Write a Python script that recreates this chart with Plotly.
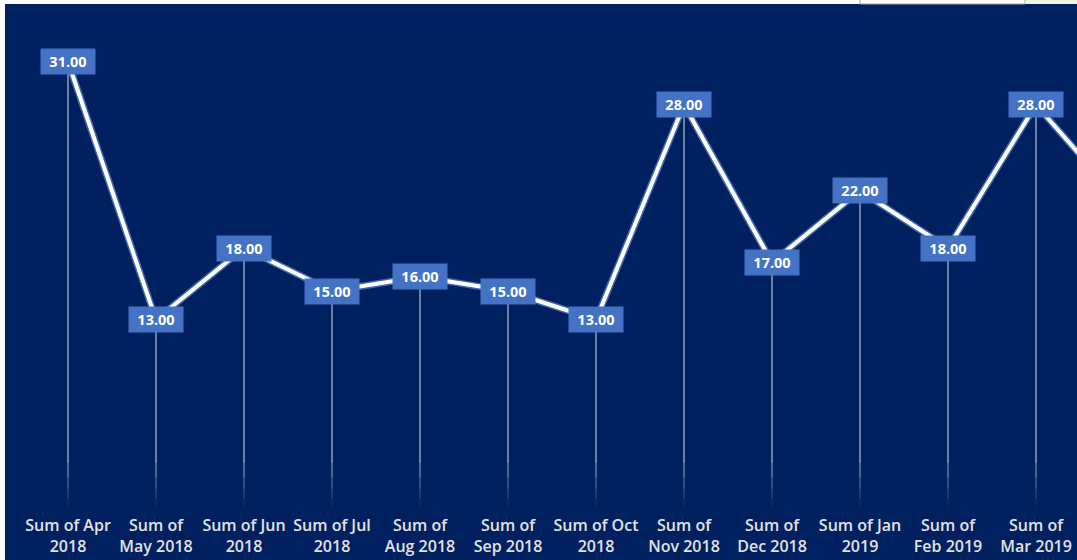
import plotly.graph_objects as go

# Monthly totals, Apr 2018 - Apr 2019
months = ["Apr 2018", "May 2018", "Jun 2018", "Jul 2018", "Aug 2018", "Sep 2018",
          "Oct 2018", "Nov 2018", "Dec 2018", "Jan 2019", "Feb 2019", "Mar 2019",
          "Apr 2019"]
tick_text = ["Sum of Apr<br>2018", "Sum of<br>May 2018", "Sum of Jun<br>2018",
             "Sum of Jul<br>2018", "Sum of<br>Aug 2018", "Sum of<br>Sep 2018",
             "Sum of Oct<br>2018", "Sum of<br>Nov 2018", "Sum of<br>Dec 2018",
             "Sum of Jan<br>2019", "Sum of<br>Feb 2019", "Sum of<br>Mar 2019",
             "Sum of Apr<br>2019"]
values = [31, 13, 18, 15, 16, 15, 13, 28, 17, 22, 18, 28, 21]

NAVY = "#002060"
LABEL_BLUE = "#4472C4"
idx = list(range(len(months)))

fig = go.Figure()

# drop lines from each point to the axis, fading out near the bottom
drop_x, drop_y = [], []
for i, v in zip(idx, values):
    drop_x += [i, i, None]
    drop_y += [v, 3.0, None]
fig.add_trace(go.Scatter(x=drop_x, y=drop_y, mode="lines",
                         line=dict(color="rgba(255,255,255,0.85)", width=1),
                         hoverinfo="skip", showlegend=False))
fade = [(3.0, 2.0, 0.6), (2.0, 1.2, 0.4), (1.2, 0.5, 0.22), (0.5, 0.0, 0.08)]
for top, bot, a in fade:
    fx, fy = [], []
    for i in idx:
        fx += [i, i, None]
        fy += [top, bot, None]
    fig.add_trace(go.Scatter(x=fx, y=fy, mode="lines",
                             line=dict(color=f"rgba(255,255,255,{a})", width=1),
                             hoverinfo="skip", showlegend=False))

# soft glow under the main line
fig.add_trace(go.Scatter(x=idx, y=values, mode="lines",
                         line=dict(color="rgba(120,160,230,0.55)", width=7),
                         hoverinfo="skip", showlegend=False))
fig.add_trace(go.Scatter(x=idx, y=values, mode="lines",
                         line=dict(color="white", width=4),
                         showlegend=False))

# value labels in boxes
for i, v in zip(idx, values):
    fig.add_annotation(x=i, y=v, text=f"{v:.2f}", showarrow=False,
                       bgcolor=LABEL_BLUE, borderpad=3, width=48, height=19,
                       font=dict(family="Open Sans", size=14.5, color="white", weight="bold"))

# white strips along the top and left edge, and the box in the top-right corner
PW, PH = 1072.0, 502.0
fig.add_shape(type="rect", xref="paper", yref="paper", x0=-5 / PW, x1=1.01,
              y0=1, y1=1 + 6 / PH, fillcolor="white", line_width=0, layer="above")
fig.add_shape(type="rect", xref="paper", yref="paper", x0=-6 / PW, x1=0,
              y0=-60 / PH, y1=1.01, fillcolor="white", line_width=0, layer="above")
fig.add_shape(type="rect", xref="paper", yref="paper", x0=855 / PW, x1=1020 / PW,
              y0=1 - 0 / PH, y1=1 + 5 / PH, fillcolor="white",
              line=dict(color="#A0A0A0", width=1), layer="above")
fig.add_shape(type="rect", xref="paper", yref="paper", x0=1020.5 / PW, x1=1.01,
              y0=1, y1=1 + 5 / PH, fillcolor="#F3F0E4", line_width=0, layer="above")

fig.update_layout(
    width=1077, height=560,
    margin=dict(l=5, r=0, t=4, b=54),
    paper_bgcolor=NAVY, plot_bgcolor=NAVY,
    showlegend=False,
    xaxis=dict(range=[-0.716, 11.466], tickmode="array", tickvals=idx, ticktext=tick_text,
               showgrid=False, zeroline=False, showline=False,
               ticks="outside", ticklen=5, tickcolor="rgba(0,0,0,0)",
               tickfont=dict(family="Open Sans", size=16, color="#E3E3E3", weight=600)),
    yaxis=dict(range=[0, 35.03], visible=False, showgrid=False, zeroline=False),
)

fig.write_html("out.html")
